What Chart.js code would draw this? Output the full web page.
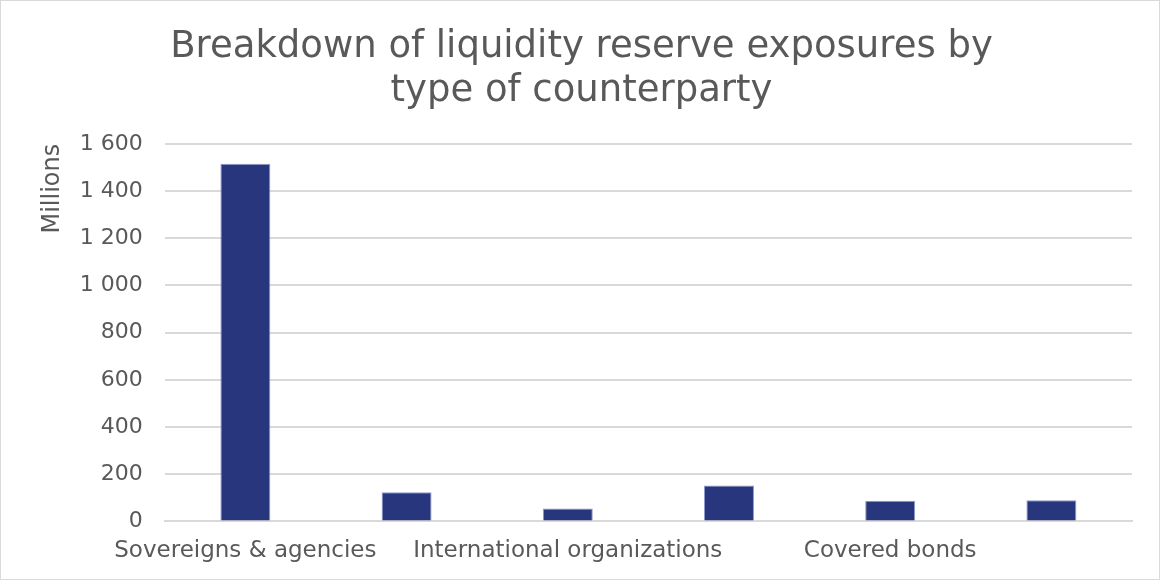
<!DOCTYPE html>
<html>
<head>
<meta charset="utf-8">
<script src="https://cdn.jsdelivr.net/npm/chart.js@4.4.1/dist/chart.umd.min.js"></script>
<style>
  html, body { margin: 0; padding: 0; background: #fff; }
  #wrap { position: relative; width: 1158px; height: 578px; border: 1px solid #d9d9d9; }
</style>
</head>
<body>
<div id="wrap"><canvas id="exposureChart"></canvas></div>
<script>
// counterparty types (only every other label fits on the axis)
const categories = [
  'Sovereigns & agencies',
  'Municipalities',
  'International organizations',
  'Financial institutions',
  'Covered bonds',
  'Other'
];
// exposures, NOK millions
const exposures = [1515, 123, 55, 152, 88, 90];
const yTicks = [0, 200, 400, 600, 800, 1000, 1200, 1400, 1600];

const fmt = (v) => String(v).replace(/\B(?=(\d{3})+(?!\d))/g, ' ');
const FONT = 'DejaVu Sans';

const ctx = document.getElementById('exposureChart').getContext('2d');
new Chart(ctx, {
  type: 'bar',
  data: {
    labels: categories,
    datasets: [{
      label: 'Exposure',
      data: exposures,
      backgroundColor: '#28377d',
      borderColor: '#8f9bcc',
      borderWidth: 1,
      barPercentage: 0.62,
      categoryPercentage: 0.5,
    }]
  },
  options: {
    responsive: true,
    maintainAspectRatio: false,
    animation: false,
    layout: { padding: { left: 30, right: 27, top: 24, bottom: 6 } },
    plugins: {
      legend: { display: false },
      tooltip: { enabled: false },
      title: {
        display: true,
        text: ['Breakdown of liquidity reserve exposures by', 'type of counterparty'],
        color: '#595959',
        font: { family: FONT, size: 37, weight: 'normal' },
        lineHeight: 1.16,
        padding: { top: 0, bottom: 30 }
      }
    },
    scales: {
      x: {
        grid: { display: false },
        border: { display: true, color: '#d9d9d9', width: 2 },
        ticks: {
          color: '#595959',
          font: { family: FONT, size: 23 },
          maxRotation: 0,
          minRotation: 0,
          autoSkip: true,
          padding: 8
        }
      },
      y: {
        min: 0,
        max: 1600,
        afterBuildTicks: (scale) => { scale.ticks = yTicks.map(v => ({ value: v })); },
        grid: { color: '#d9d9d9', lineWidth: 2, drawTicks: false },
        border: { display: false },
        ticks: {
          color: '#595959',
          font: { family: FONT, size: 22 },
          padding: 22,
          callback: (v) => fmt(v)
        },
        title: {
          display: true,
          text: 'Millions',
          align: 'end',
          color: '#595959',
          font: { family: FONT, size: 24 },
          padding: { top: 7, bottom: -9 }
        }
      }
    }
  }
});
</script>
</body>
</html>
